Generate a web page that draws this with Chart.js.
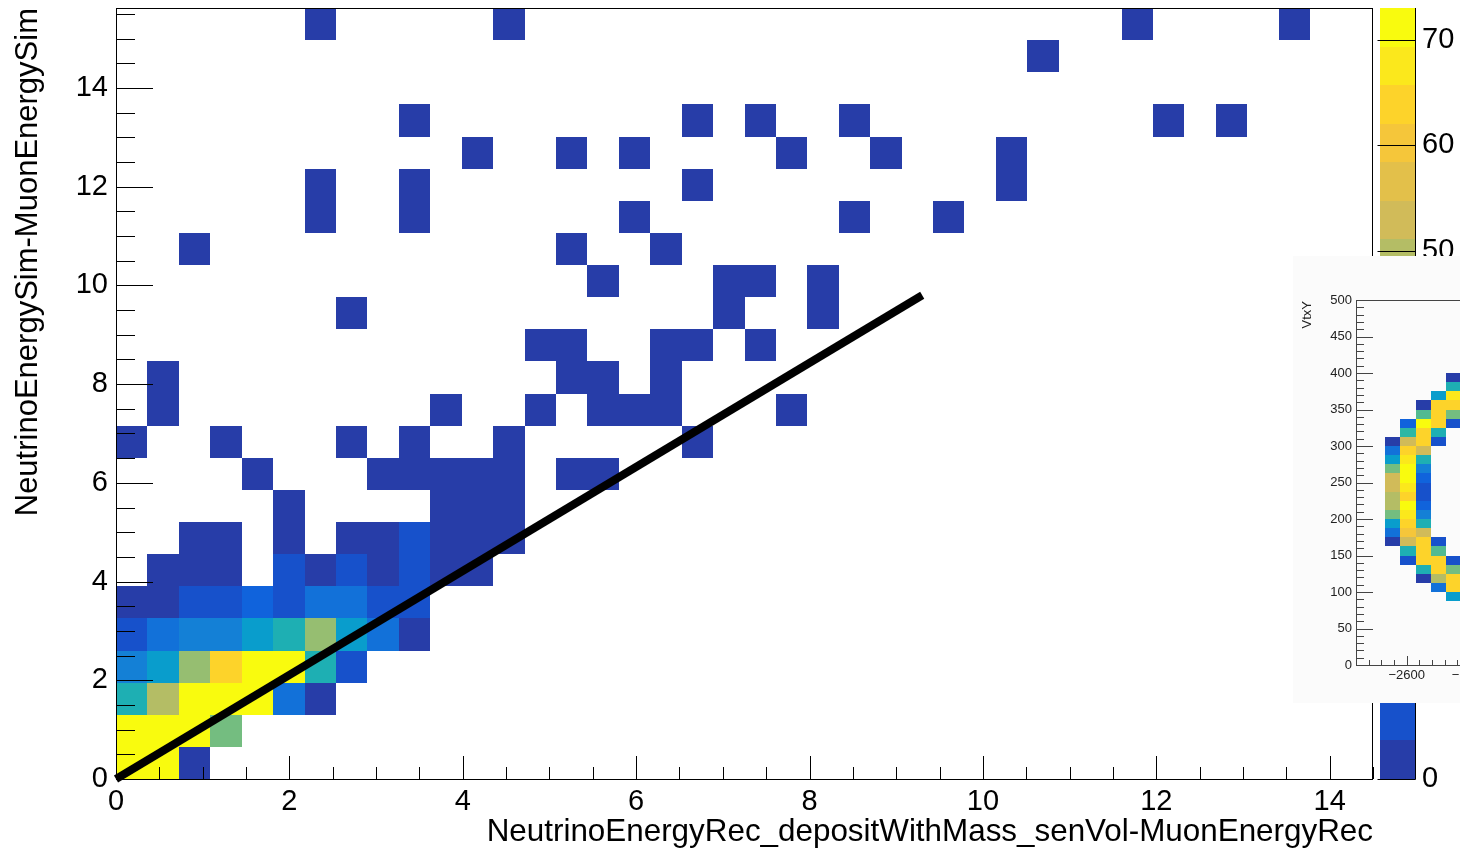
<!DOCTYPE html>
<html>
<head>
<meta charset="utf-8">
<script src="https://cdn.jsdelivr.net/npm/chart.js@4.4.0/dist/chart.umd.min.js"></script>
<style>
  html, body { margin: 0; padding: 0; background: #fff; overflow: hidden; }
  #main { position: absolute; left: 0; top: 0; }
  #insetBox { position: absolute; left: 1293px; top: 256px; width: 167px; height: 447px; overflow: hidden; background: #fbfbfb; }
</style>
</head>
<body>
<canvas id="main" width="1460" height="850" style="width:1460px;height:850px"></canvas>
<div id="insetBox"><canvas id="inset" width="400" height="447" style="width:400px;height:447px"></canvas></div>
<script>
// ---- main histogram: binning
const xMin = 0, xMax = 14.5, nBinsX = 40;
const yMin = 0, yMax = 15.62, nBinsY = 24;
const zMax = 73;
const xTicks = [0, 2, 4, 6, 8, 10, 12, 14];
const yTicks = [0, 2, 4, 6, 8, 10, 12, 14];
const zTicks = [0, 10, 20, 30, 40, 50, 60, 70];

// filled bins: [binX, binY, content]
const bins = [
  [0,0,71],[1,0,70],[2,0,2],
  [0,1,72],[1,1,73],[2,1,70],[3,1,41],
  [0,2,31],[1,2,49],[2,2,71],[3,2,72],[4,2,70],[5,2,12],[6,2,2],
  [0,3,16],[1,3,24],[2,3,45],[3,3,63],[4,3,71],[5,3,70],[6,3,31],[7,3,5],
  [0,4,5],[1,4,12],[2,4,16],[3,4,16],[4,4,25],[5,4,31],[6,4,45],[7,4,24],[8,4,12],[9,4,2],
  [0,5,2],[1,5,2],[2,5,5],[3,5,5],[4,5,8],[5,5,5],[6,5,12],[7,5,12],[8,5,5],[9,5,5],
  [1,6,2],[2,6,2],[3,6,2],[5,6,5],[6,6,2],[7,6,5],[8,6,2],[9,6,5],[10,6,2],[11,6,2],
  [2,7,1],[3,7,1],[5,7,1],[7,7,1],[8,7,1],[9,7,5],[10,7,1],[11,7,1],[12,7,1],
  [5,8,1],[10,8,1],[11,8,1],[12,8,1],
  [4,9,1],[8,9,1],[9,9,1],[10,9,1],[11,9,1],[12,9,1],[14,9,1],[15,9,1],
  [0,10,1],[3,10,1],[7,10,1],[9,10,1],[12,10,1],[18,10,1],
  [1,11,1],[10,11,1],[13,11,1],[15,11,1],[16,11,1],[17,11,1],[21,11,1],
  [1,12,1],[14,12,1],[15,12,1],[17,12,1],
  [13,13,1],[14,13,1],[17,13,1],[18,13,1],[20,13,1],
  [7,14,1],[19,14,1],[22,14,1],
  [15,15,1],[19,15,1],[20,15,1],[22,15,1],
  [2,16,1],[14,16,1],[17,16,1],
  [6,17,1],[9,17,1],[16,17,1],[23,17,1],[26,17,1],
  [6,18,1],[9,18,1],[18,18,1],[28,18,1],
  [11,19,1],[14,19,1],[16,19,1],[21,19,1],[24,19,1],[28,19,1],
  [9,20,1],[18,20,1],[20,20,1],[23,20,1],[33,20,1],[35,20,1],
  [29,22,1],
  [6,23,1],[12,23,1],[32,23,1],[37,23,1]
];

// thick black reference line
const lineX = [0, 9.3];
const lineY = [0, 9.8];

// ---- pasted VtxY inset
const vtxXMin = -2680, vtxXMax = -2180;
const vtxYMin = 0, vtxYMax = 500;
const vtxBinX0 = -2634, vtxBinW = 24, vtxBinH = 12.5;
const vtxZMax = 100;
const vtxTicksX = [-2600, -2500, -2400, -2300, -2200];
const vtxTicksY = [0, 50, 100, 150, 200, 250, 300, 350, 400, 450, 500];
const vtxBins = [
  [0,24,3],[0,23,17],[0,22,32],[0,21,57],[0,20,72],[0,19,72],[0,18,67],[0,17,67],[0,16,57],[0,15,32],[0,14,17],[0,13,3],
  [1,26,12],[1,25,47],[1,24,72],[1,23,87],[1,22,92],[1,21,98],[1,20,98],[1,19,92],[1,18,87],[1,17,98],[1,16,92],[1,15,87],[1,14,82],[1,13,72],[1,12,42],[1,11,7],
  [2,28,3],[2,27,52],[2,26,98],[2,25,87],[2,24,87],[2,23,72],[2,22,42],[2,21,22],[2,20,12],[2,19,7],[2,18,7],[2,17,12],[2,16,22],[2,15,42],[2,14,72],[2,13,87],[2,12,87],[2,11,87],[2,10,42],[2,9,3],
  [3,29,32],[3,28,87],[3,27,87],[3,26,87],[3,25,42],[3,24,7],[3,13,7],[3,12,52],[3,11,87],[3,10,87],[3,9,67],[3,8,17],
  [4,31,3],[4,30,42],[4,29,92],[4,28,87],[4,27,57],[4,26,7],[4,11,7],[4,10,57],[4,9,87],[4,8,87],[4,7,32]
];

// ---- ROOT kBird palette
const birdStops = [0.0, 0.125, 0.25, 0.375, 0.5, 0.625, 0.75, 0.875, 1.0];
const birdR = [0.2082, 0.0592, 0.0780, 0.0232, 0.1802, 0.5301, 0.8186, 0.9956, 0.9764];
const birdG = [0.1664, 0.3599, 0.5041, 0.6419, 0.7178, 0.7492, 0.7328, 0.7862, 0.9832];
const birdB = [0.5293, 0.8684, 0.8385, 0.7914, 0.6425, 0.4662, 0.3499, 0.1968, 0.0539];

function bird(f) {
  f = Math.max(0, Math.min(1, f));
  let k = 0;
  while (k < birdStops.length - 2 && f > birdStops[k + 1]) k++;
  const t = (f - birdStops[k]) / (birdStops[k + 1] - birdStops[k]);
  const c = a => Math.round(255 * (a[k] + t * (a[k + 1] - a[k])));
  return `rgb(${c(birdR)},${c(birdG)},${c(birdB)})`;
}
// 20 contour levels, colour picked the way ROOT does it
function levelColor(lvl) {
  const idx = Math.floor(0.01 + (lvl + 0.99) * 255 / 20);
  return bird(Math.min(254, idx) / 254);
}
function binColor(v, zmax) {
  return levelColor(Math.min(19, Math.floor(v / (zmax / 20))));
}

const FONT = '"Liberation Sans", Arial, Helvetica, sans-serif';
Chart.defaults.font.family = FONT;
Chart.defaults.color = '#000';

function fixedTicks(list) {
  return scale => { scale.ticks = list.map(v => ({ value: v })); };
}
// fixed box size, and no extra padding pushed into the layout by the labels
function fixedSize(dim, px) {
  return s => {
    s[dim] = px;
    s.paddingTop = s.paddingBottom = s.paddingLeft = s.paddingRight = 0;
  };
}

function fillBins(ctx, xs, ys, list, x0, dx, y0, dy, zmax) {
  list.forEach(([i, j, v]) => {
    const l = Math.round(xs.getPixelForValue(x0 + i * dx));
    const r = Math.round(xs.getPixelForValue(x0 + (i + 1) * dx));
    const t = Math.round(ys.getPixelForValue(y0 + (j + 1) * dy));
    const b = Math.round(ys.getPixelForValue(y0 + j * dy));
    ctx.fillStyle = binColor(v, zmax);
    ctx.fillRect(l, t, r - l, b - t);
  });
}

function hLine(ctx, x1, x2, y) { ctx.beginPath(); ctx.moveTo(x1, y); ctx.lineTo(x2, y); ctx.stroke(); }
function vLine(ctx, x, y1, y2) { ctx.beginPath(); ctx.moveTo(x, y1); ctx.lineTo(x, y2); ctx.stroke(); }

const noGrid = { display: false, drawTicks: false };

// ---- main plot decorations (bins, palette, ROOT style ticks and titles)
const mainDecor = {
  id: 'mainDecor',
  beforeDatasetsDraw(chart) {
    const { ctx, scales: { x, y, z } } = chart;
    ctx.save();
    fillBins(ctx, x, y, bins, xMin, (xMax - xMin) / nBinsX, yMin, (yMax - yMin) / nBinsY, zMax);
    const pl = z.left + 7, pw = 35;
    for (let i = 0; i < 20; i++) {
      const t = Math.round(z.getPixelForValue((i + 1) * zMax / 20));
      const b = Math.round(z.getPixelForValue(i * zMax / 20));
      ctx.fillStyle = levelColor(i);
      ctx.fillRect(pl, t, pw, b - t);
    }
    ctx.restore();
  },
  afterDraw(chart) {
    const { ctx, chartArea: a, scales: { x, y, z } } = chart;
    ctx.save();
    ctx.strokeStyle = '#000';
    ctx.lineWidth = 1;
    ctx.strokeRect(a.left + 0.5, a.top + 0.5, a.right - a.left - 1, a.bottom - a.top);
    for (let v = xMin; v <= xMax + 1e-9; v += 0.5) {
      const px = Math.round(x.getPixelForValue(v)) + 0.5;
      vLine(ctx, px, a.bottom, a.bottom - (v % 2 === 0 ? 23 : 12));
    }
    for (let v = yMin; v <= yMax + 1e-9; v += 0.5) {
      const py = Math.round(y.getPixelForValue(v)) + 0.5;
      hLine(ctx, a.left, a.left + (v % 2 === 0 ? 37 : 19), py);
    }
    // palette axis
    const pr = z.left + 42.5;
    vLine(ctx, pr, a.top, a.bottom);
    hLine(ctx, z.left + 7, pr, a.bottom + 0.5);
    zTicks.forEach(v => hLine(ctx, pr - 38, pr, Math.round(z.getPixelForValue(v)) + 0.5));
    // axis titles
    ctx.fillStyle = '#000';
    ctx.font = '31.4px ' + FONT;
    ctx.textAlign = 'right';
    ctx.textBaseline = 'alphabetic';
    ctx.fillText('NeutrinoEnergyRec_depositWithMass_senVol-MuonEnergyRec', a.right, 841);
    ctx.font = '31px ' + FONT;
    ctx.translate(37, a.top);
    ctx.rotate(-Math.PI / 2);
    ctx.fillText('NeutrinoEnergySim-MuonEnergySim', 0, 0);
    ctx.restore();
  }
};

new Chart(document.getElementById('main'), {
  type: 'scatter',
  data: {
    datasets: [{
      data: lineX.map((v, i) => ({ x: v, y: lineY[i] })),
      showLine: true,
      borderColor: '#000',
      borderWidth: 8,
      pointRadius: 0,
      clip: false
    }]
  },
  options: {
    responsive: false,
    animation: false,
    devicePixelRatio: 1,
    layout: { padding: { top: 8, left: 0, right: 0, bottom: 0 } },
    plugins: { legend: { display: false }, tooltip: { enabled: false } },
    scales: {
      x: {
        type: 'linear', position: 'bottom', min: xMin, max: xMax,
        afterFit: fixedSize('height', 71),
        afterBuildTicks: fixedTicks(xTicks),
        grid: noGrid, border: { display: false },
        ticks: { font: { size: 29 }, padding: 6, maxRotation: 0, autoSkip: false }
      },
      y: {
        type: 'linear', position: 'left', min: yMin, max: yMax,
        afterFit: fixedSize('width', 116),
        afterBuildTicks: fixedTicks(yTicks),
        grid: noGrid, border: { display: false },
        ticks: { font: { size: 29 }, padding: 8, autoSkip: false }
      },
      z: {
        type: 'linear', position: 'right', min: 0, max: zMax,
        afterFit: fixedSize('width', 87),
        afterBuildTicks: fixedTicks(zTicks),
        grid: noGrid, border: { display: false },
        ticks: { font: { size: 29 }, padding: 49, autoSkip: false }
      }
    }
  },
  plugins: [mainDecor]
});

// ---- inset (part of another canvas pasted over the plot)
const insetDecor = {
  id: 'insetDecor',
  beforeDatasetsDraw(chart) {
    const { ctx, scales: { x, y } } = chart;
    ctx.save();
    fillBins(ctx, x, y, vtxBins, vtxBinX0, vtxBinW, vtxYMin, vtxBinH, vtxZMax);
    ctx.restore();
  },
  afterDraw(chart) {
    const { ctx, chartArea: a, scales: { x, y } } = chart;
    ctx.save();
    ctx.strokeStyle = '#444';
    ctx.lineWidth = 1;
    hLine(ctx, a.left, a.right, a.top + 0.5);
    hLine(ctx, a.left, a.right, a.bottom + 0.5);
    vLine(ctx, a.left + 0.5, a.top, a.bottom);
    for (let v = -2680; v <= vtxXMax; v += 20) {
      const px = Math.round(x.getPixelForValue(v)) + 0.5;
      vLine(ctx, px, a.bottom, a.bottom - (v % 100 === 0 ? 9 : 5));
    }
    for (let v = vtxYMin; v <= vtxYMax; v += 10) {
      const py = Math.round(y.getPixelForValue(v)) + 0.5;
      hLine(ctx, a.left, a.left + (v % 50 === 0 ? 17 : 8), py);
    }
    ctx.fillStyle = '#222';
    ctx.font = '13px ' + FONT;
    ctx.textAlign = 'right';
    ctx.translate(18, a.top + 1);
    ctx.rotate(-Math.PI / 2);
    ctx.fillText('VtxY', 0, 0);
    ctx.restore();
  }
};

new Chart(document.getElementById('inset'), {
  type: 'scatter',
  data: { datasets: [{ data: [], pointRadius: 0 }] },
  options: {
    responsive: false,
    animation: false,
    devicePixelRatio: 1,
    layout: { padding: { top: 44, right: 20, left: 0, bottom: 0 } },
    plugins: { legend: { display: false }, tooltip: { enabled: false } },
    scales: {
      x: {
        type: 'linear', min: vtxXMin, max: vtxXMax,
        afterFit: fixedSize('height', 38),
        afterBuildTicks: fixedTicks(vtxTicksX),
        grid: noGrid, border: { display: false },
        ticks: { font: { size: 13 }, color: '#222', padding: 3, maxRotation: 0, autoSkip: false,
                 callback: v => String(v).replace('-', '\u2212') }
      },
      y: {
        type: 'linear', min: vtxYMin, max: vtxYMax,
        afterFit: fixedSize('width', 63),
        afterBuildTicks: fixedTicks(vtxTicksY),
        grid: noGrid, border: { display: false },
        ticks: { font: { size: 13 }, color: '#222', padding: 4, autoSkip: false }
      }
    }
  },
  plugins: [insetDecor]
});
</script>
</body>
</html>
